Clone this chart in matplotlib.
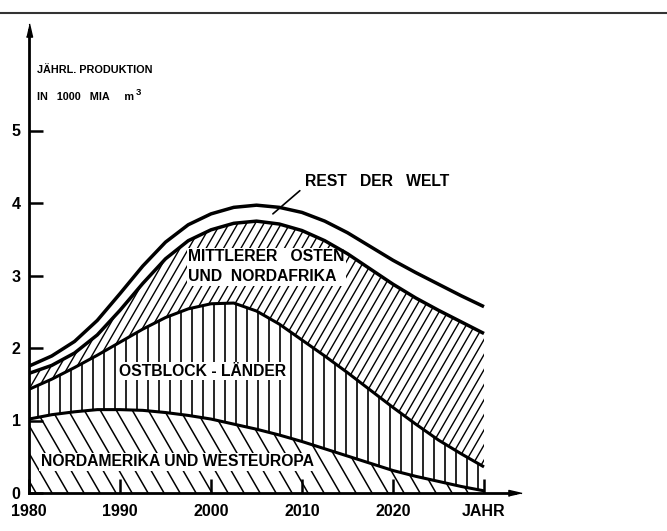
import numpy as np
import matplotlib
matplotlib.use("Agg")
import matplotlib.pyplot as plt
from matplotlib.lines import Line2D
from matplotlib.collections import LineCollection
from matplotlib.transforms import IdentityTransform

plt.rcParams['font.family'] = ['Liberation Sans', 'DejaVu Sans']
plt.rcParams['font.weight'] = 'bold'

# years (every 2.5 years)
jahre = [1980, 1982.5, 1985, 1987.5, 1990, 1992.5, 1995, 1997.5, 2000, 2002.5,
         2005, 2007.5, 2010, 2012.5, 2015, 2017.5, 2020, 2022.5, 2025, 2027.5, 2030]

# upper edge of each stacked band, in 1000 Mia m3
nordamerika_oben = [1.02, 1.08, 1.12, 1.15, 1.15, 1.14, 1.11, 1.07, 1.02, 0.95,
                    0.88, 0.80, 0.71, 0.61, 0.51, 0.41, 0.31, 0.23, 0.16, 0.09, 0.03]
ostblock_oben = [1.43, 1.57, 1.73, 1.90, 2.08, 2.26, 2.42, 2.54, 2.61, 2.62,
                 2.51, 2.33, 2.11, 1.89, 1.66, 1.42, 1.18, 0.95, 0.73, 0.54, 0.36]
mittlerer_osten_oben = [1.65, 1.76, 1.93, 2.18, 2.52, 2.89, 3.23, 3.48, 3.63, 3.72,
                        3.75, 3.71, 3.62, 3.48, 3.30, 3.09, 2.88, 2.69, 2.52, 2.36, 2.20]
rest_welt_oben = [1.75, 1.89, 2.09, 2.38, 2.75, 3.13, 3.46, 3.70, 3.85, 3.94,
                  3.97, 3.94, 3.87, 3.75, 3.59, 3.40, 3.21, 3.04, 2.88, 2.72, 2.57]

x_ticks = [1980, 1990, 2000, 2010, 2020, 2030]
x_labels = ['1980', '1990', '2000', '2010', '2020', 'JAHR']
y_ticks = [0, 1, 2, 3, 4, 5]

W, H = 667, 531
fig = plt.figure(figsize=(W / 100, H / 100), dpi=100)

x0, x1 = 1980, 2033.45
y0, y1 = 0, 6.39
left_px, bottom_px = 29, 493
px_per_year, px_per_unit = 9.1, 72.5
ax = fig.add_axes([left_px / W, (H - bottom_px) / H,
                   (x1 - x0) * px_per_year / W, (y1 - y0) * px_per_unit / H])
ax.set_xlim(x0, x1)
ax.set_ylim(y0, y1)

x = np.array(jahre)
na = np.array(nordamerika_oben)
ob = np.array(ostblock_oben)
mo = np.array(mittlerer_osten_oben)
rw = np.array(rest_welt_oben)


def schraffur(band, winkel, abstand, lw):
    # hand-drawn style hatching: parallel lines in pixel space, clipped to the band
    dx = H / np.tan(np.radians(winkel))
    starts = np.arange(-2 * H, W + 2 * H, abstand)
    segs = [[(s, 0), (s + dx, H)] for s in starts]
    lc = LineCollection(segs, colors='black', linewidths=lw,
                        transform=IdentityTransform(), zorder=1.5)
    ax.add_collection(lc, autolim=False)
    lc.set_clip_path(band.get_paths()[0], ax.transData)


b_na = ax.fill_between(x, 0, na, facecolor='white', linewidth=0, zorder=1)
b_ob = ax.fill_between(x, na, ob, facecolor='white', linewidth=0, zorder=1)
b_mo = ax.fill_between(x, ob, mo, facecolor='white', linewidth=0, zorder=1)
schraffur(b_na, 120, 16, 1.1)
schraffur(b_ob, 90, 11, 1.2)
schraffur(b_mo, 60, 8.7, 1.0)

ax.plot(x, na, color='black', lw=2.2, solid_capstyle='butt')
ax.plot(x, ob, color='black', lw=2.2, solid_capstyle='butt')
ax.plot(x, mo, color='black', lw=2.5, solid_capstyle='butt')
ax.plot(x, rw, color='black', lw=2.5, solid_capstyle='butt')

# axes with narrow arrow heads
for s in ['top', 'right']:
    ax.spines[s].set_visible(False)
for s in ['left', 'bottom']:
    ax.spines[s].set_linewidth(2.0)
spitze_oben = [(-3, -6.5), (3, -6.5), (0, 6.5)]
spitze_rechts = [(-6.5, -3), (-6.5, 3), (6.5, 0)]
ax.plot(1, 0, marker=spitze_rechts, color='black', ms=9.5, transform=ax.transAxes, clip_on=False)
ax.plot(0, 1, marker=spitze_oben, color='black', ms=9.5, transform=ax.transAxes, clip_on=False)

ax.set_xticks(x_ticks)
ax.set_xticklabels(x_labels)
ax.set_yticks(y_ticks)
ax.tick_params(axis='both', direction='in', width=1.8, labelsize=11.5)
ax.tick_params(axis='y', length=10, pad=6)
ax.tick_params(axis='x', length=10, pad=8)

# axis title
ax.text(1980.9, 5.83, 'JÄHRL. PRODUKTION', fontsize=7.8, va='center', ha='left')
einheit = ax.text(1980.9, 5.46, 'IN   1000   MIA     m', fontsize=7.8, va='center', ha='left')
ax.annotate('3', xy=(1, 0.55), xycoords=einheit, xytext=(1, 0),
            textcoords='offset points', fontsize=6.8, ha='left', va='bottom')

# band labels sit on white patches above the hatching but below the curves
box = dict(facecolor='white', edgecolor='none', pad=1.0)
fs = 11.3
ax.text(1996.3, 0.43, 'NORDAMERIKA UND WESTEUROPA', fontsize=fs,
        ha='center', va='center', bbox=box, zorder=1.8)
ax.text(1999.1, 1.68, 'OSTBLOCK - LÄNDER', fontsize=fs,
        ha='center', va='center', bbox=box, zorder=1.8)
ax.text(1997.5, 3.12, 'MITTLERER   OSTEN\nUND  NORDAFRIKA', fontsize=fs,
        ha='left', va='center', linespacing=1.45, bbox=box, zorder=1.8)
ax.annotate('REST   DER   WELT', xy=(2006.8, 3.85), xytext=(2010.3, 4.29),
            fontsize=fs, ha='left', va='center',
            arrowprops=dict(arrowstyle='-', lw=1.2, color='black',
                            relpos=(0, 0.2), shrinkA=2, shrinkB=0))

# rule across the top of the page
fig.add_artist(Line2D([0, 1], [1 - 13 / H, 1 - 13 / H], color='#333333', lw=1.5))

fig.savefig('out.png', dpi=100)
